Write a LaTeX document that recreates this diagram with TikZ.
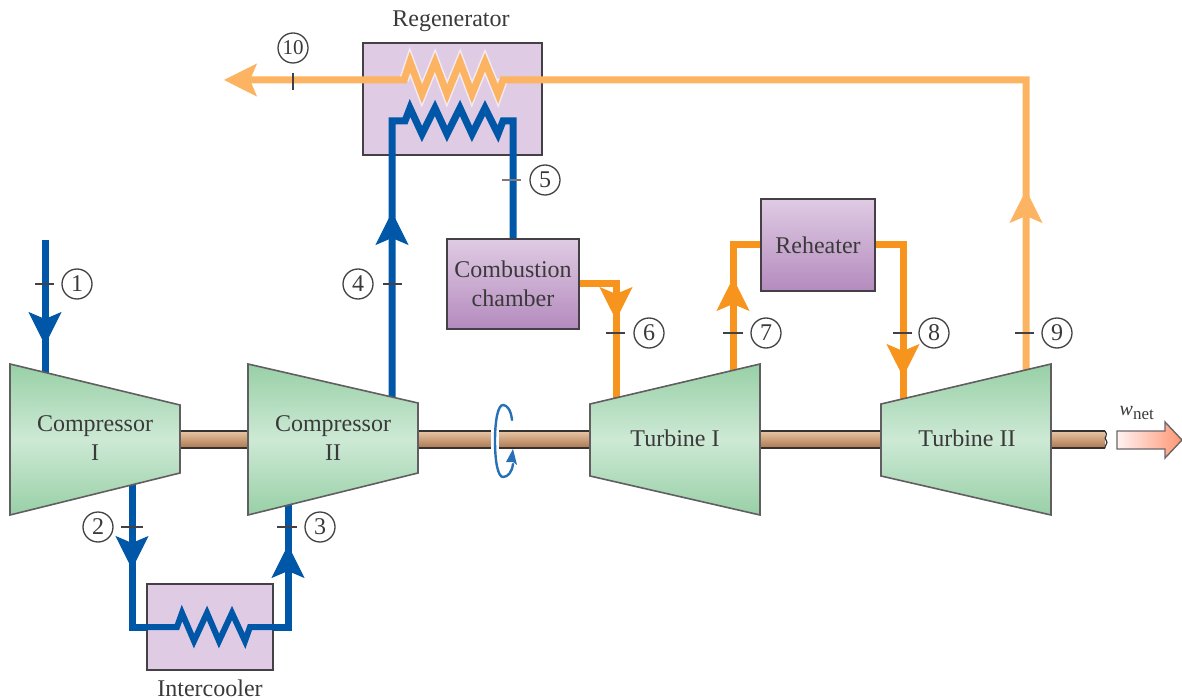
\documentclass[tikz,border=0pt]{standalone}
\usepackage{fontspec}
\setmainfont{Liberation Serif}
\usetikzlibrary{arrows.meta}
\definecolor{bluep}{HTML}{0057A8}
\definecolor{orangep}{HTML}{F7941D}
\definecolor{lorange}{HTML}{FDB462}
\definecolor{lilac}{HTML}{DFCBE3}
\definecolor{lilacd}{HTML}{B48BBE}
\definecolor{greend}{HTML}{98D0A6}
\definecolor{greenl}{HTML}{CDE9D5}
\definecolor{edgec}{HTML}{454045}
\definecolor{txt}{HTML}{3A3A3A}
\definecolor{shaftl}{HTML}{EBCBAA}
\definecolor{shaftd}{HTML}{AD7850}
\tikzset{
  pipe/.style={line width=7pt,miter limit=10},
  bluepipe/.style={pipe,draw=bluep},
  orangepipe/.style={pipe,draw=orangep},
  lightpipe/.style={pipe,draw=lorange},
  head/.style={line width=1pt,-{Stealth[length=33pt,width=33pt,inset=7pt]}},
  hx/.style={draw=edgec,line width=1.6pt,fill=lilac,minimum width=#1,inner sep=0pt},
  grad/.style={draw=edgec,line width=1.6pt,top color=lilac,bottom color=lilacd,inner sep=0pt,
     text=txt,font=\fontsize{24}{29}\selectfont,align=center},
  machine/.style={draw=edgec!85,line width=1.6pt,top color=greend,bottom color=greend,middle color=greenl},
  shaftbar/.style={top color=shaftl,bottom color=shaftd},
  shaftline/.style={draw=black!80,line width=1.5pt},
  lab/.style={text=txt,font=\fontsize{24}{29}\selectfont,align=center,inner sep=0pt},
  num/.style={circle,draw=edgec,line width=1.3pt,fill=white,minimum size=30pt,inner sep=0pt,
     text=txt,font=\fontsize{24}{24}\selectfont},
  tickm/.style={draw=edgec,line width=1.4pt},
}
\begin{document}
\begin{tikzpicture}[x=1pt,y=-1pt]
\useasboundingbox (0,0) rectangle (1182,700);
% heat exchanger boxes
\node[hx=179pt,minimum height=112pt] (regen) at (452.5,99) {};
\node[hx=126pt,minimum height=86pt] (cool) at (210,627) {};
% named points
\coordinate (c1in) at (45,240);
\coordinate (c1top) at (45,376);
\coordinate (a1) at (45,345);
\coordinate (c1bot) at (132,470);
\coordinate (a2) at (132,569);
\coordinate (cnl) at (132,627);
\coordinate (cnr) at (288,627);
\coordinate (c2bot) at (288,500);
\coordinate (a3) at (288,545);
\coordinate (c2top) at (392,402);
\coordinate (a4) at (392,212);
\coordinate (rbl) at (392,121);
\coordinate (rbr) at (513,121);
\coordinate (t1top) at (616,404);
\coordinate (a6) at (616,320);
\coordinate (t1out) at (733,376);
\coordinate (a7) at (733,278);
\coordinate (t2in) at (903,406);
\coordinate (a8) at (903,377);
\coordinate (t2out) at (1026,376);
\coordinate (a9) at (1026,190);
\coordinate (rtop) at (1026,80);
\coordinate (a10) at (224,80);
\coordinate (bend6) at (616,284);
\coordinate (bend7) at (733,245);
\coordinate (bend8) at (903,245);
% burners
\node[grad,minimum width=132pt,minimum height=90pt] (comb) at (513,284) {Combustion\\chamber};
\node[grad,minimum width=114pt,minimum height=92pt] (reheat) at (818,245) {Reheater};
% blue pipes
\draw[bluepipe] (c1in) -- (c1top);
\draw[bluepipe,head,fill=bluep] (45,300) -- (a1);
\draw[bluepipe] (c1bot) -- (cnl) -- (cool.west);
\draw[bluepipe,head,fill=bluep] (132,520) -- (a2);
\draw[bluepipe,line width=6pt] (cool.west) -- (177,627) -- (182,613) -- (194,641) -- (207,613) -- (219,641) -- (232,613) -- (245,641) -- (250,627) -- (cool.east);
\draw[bluepipe] (cool.east) -- (cnr) -- (c2bot);
\draw[bluepipe,head,fill=bluep] (288,590) -- (a3);
\draw[bluepipe] (c2top) -- (rbl) -- (405,121) -- (410,108) -- (422,134) -- (435,108) -- (447,134) -- (460,108) -- (472,134) -- (485,108) -- (498,134) -- (503,121) -- (rbr) -- (comb.north);
\draw[bluepipe,head,fill=bluep] (392,260) -- (a4);
% orange pipes
\draw[orangepipe] (comb.east) -- (bend6) -- (t1top);
\draw[orangepipe,head,fill=orangep] (bend6) -- (a6);
\draw[orangepipe] (t1out) -- (bend7) -- (reheat.west);
\draw[orangepipe,head,fill=orangep] (733,330) -- (a7);
\draw[orangepipe] (reheat.east) -- (bend8) -- (t2in);
\draw[orangepipe,head,fill=orangep] (903,330) -- (a8);
% light exhaust pipe
\draw[draw=lilac!40!white,line width=10pt] (404,80) -- (410,62) -- (422,94) -- (435,62) -- (447,94) -- (460,62) -- (472,94) -- (485,62) -- (498,94) -- (503,80);
\draw[lightpipe] (t2out) -- (rtop) -- (503,80) -- (498,94) -- (485,62) -- (472,94) -- (460,62) -- (447,94) -- (435,62) -- (422,94) -- (410,62) -- (404,80) -- (245,80);
\draw[lightpipe,head,fill=lorange] (1026,250) -- (a9);
\draw[lightpipe,head,fill=lorange] (290,80) -- (a10);
% shaft
\foreach \a/\b in {180/248,418/590,760/881,1051/1105}{
  \path[shaftbar] (\a,430) rectangle (\b,448);
  \draw[shaftline] (\a,431) -- (\b,431);
  \draw[shaftline] (\a,448) -- (\b,448);
}
\draw[shaftline,line width=1.2pt] (1105,431) .. controls (1109,435) and (1103,438) .. (1106,440) .. controls (1109,443) and (1104,446) .. (1105,448);
\fill[white] (491,429) rectangle (499,450);
% machines
\path[machine] (10,364) -- (180,405) -- (180,473) -- (10,515) -- cycle;
\path[machine] (248,364) -- (418,403) -- (418,473) -- (248,515) -- cycle;
\path[machine] (590,404) -- (760,364) -- (760,515) -- (590,476) -- cycle;
\path[machine] (881,404) -- (1051,364) -- (1051,515) -- (881,476) -- cycle;
\node[lab] (comp1) at (95,438) {Compressor\\I};
\node[lab] (comp2) at (333,438) {Compressor\\II};
\node[lab] (turb1) at (675,438) {Turbine I};
\node[lab] (turb2) at (967,438) {Turbine II};
% rotation arrow
\draw[draw=bluep!85!white,line width=2.4pt,line cap=round] (512,420) .. controls (511,410) and (507,405) .. (503,405) .. controls (498,405) and (495,420) .. (495,441) .. controls (495,462) and (498,477) .. (503,477) .. controls (508,477) and (512,472) .. (513,464);
\fill[bluep!85!white] (513,449) -- (517,465) -- (513,462) -- (506,462) -- cycle;
% work arrow
\path[draw=edgec!80,line width=1.4pt,left color=red!5!white,right color=orange!50!red!55!white]
  (1117,431) -- (1165,431) -- (1165,422) -- (1182,440) -- (1165,458) -- (1165,449) -- (1117,449) -- cycle;
\node[inner sep=0pt,text=txt,font=\fontsize{20}{20}\selectfont] (wnet) at (1137,413) {\textit{w}\textsubscript{\fontsize{17}{17}\selectfont net}};
% labels
\node[lab] (lregen) at (451,21) {Regenerator};
\node[lab] (lcool) at (210,688) {Intercooler};
% state points
\node[num] (n1) at (77,284) {1};
\node[num] (n2) at (98,527) {2};
\node[num] (n3) at (320,527) {3};
\node[num] (n4) at (358,284) {4};
\node[num] (n5) at (545,180) {5};
\node[num] (n6) at (649,333) {6};
\node[num] (n7) at (766,333) {7};
\node[num] (n8) at (934,333) {8};
\node[num] (n9) at (1057,333) {9};
\node[num,font=\fontsize{21}{21}\selectfont] (n10) at (293,48) {10};
\draw[tickm] ([xshift=-7pt]n1.west) -- ([xshift=-26pt]n1.west);
\draw[tickm] ([xshift=7pt]n2.east) -- ([xshift=29pt]n2.east);
\draw[tickm] ([xshift=-7pt]n3.west) -- ([xshift=-27pt]n3.west);
\draw[tickm] ([xshift=9pt]n4.east) -- ([xshift=28pt]n4.east);
\draw[tickm,draw=edgec!70] ([xshift=-8pt]n5.west) -- ([xshift=-27pt]n5.west);
\draw[tickm] ([xshift=-8pt]n6.west) -- ([xshift=-27pt]n6.west);
\draw[tickm] ([xshift=-7pt]n7.west) -- ([xshift=-27pt]n7.west);
\draw[tickm] ([xshift=-6pt]n8.west) -- ([xshift=-25pt]n8.west);
\draw[tickm] ([xshift=-7pt]n9.west) -- ([xshift=-26pt]n9.west);
\draw[tickm] ([yshift=-9pt]n10.south) -- ([yshift=-26pt]n10.south);
\end{tikzpicture}
\end{document}
